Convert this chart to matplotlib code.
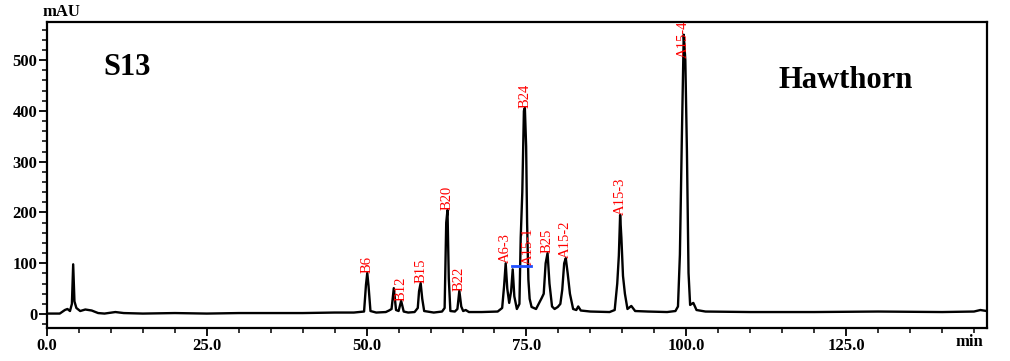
import matplotlib.pyplot as plt
from matplotlib.ticker import MultipleLocator, FormatStrFormatter

plt.rcParams['font.family'] = ['Liberation Serif', 'DejaVu Serif']

# chromatogram trace (min, mAU)
rt = [0, 2.0, 2.8, 3.2, 3.6, 3.9, 4.1, 4.3, 4.6, 5.2, 6.0, 7.0, 8.0, 9.0, 10.7, 12, 15, 20, 25, 30,
      35, 40, 45, 48, 49.6, 49.9, 50.1, 50.3, 50.6, 51.5, 53.0, 53.5, 53.9, 54.25, 54.6, 55.0, 55.4,
      55.8, 56.5, 57.5, 58.0, 58.2, 58.45, 58.7, 59.0, 60.5, 61.8, 62.2, 62.45, 62.65, 62.85, 63.1,
      63.8, 64.2, 64.5, 64.8, 65.1, 65.5, 66.0, 68, 70.5, 71.2, 71.5, 71.75, 72.0, 72.3, 72.6, 72.85,
      73.1, 73.5, 73.9, 74.1, 74.35, 74.6, 74.75, 74.95, 75.1, 75.3, 75.5, 75.8, 76.5, 77.0, 77.4,
      77.7, 78.0, 78.3, 78.6, 79.0, 79.4, 79.9, 80.3, 80.6, 80.9, 81.15, 81.45, 81.8, 82.3, 82.8,
      83.1, 83.5, 85, 88.0, 88.8, 89.2, 89.45, 89.65, 89.85, 90.1, 90.4, 90.8, 91.4, 92.0, 94, 97,
      98.3, 98.7, 99.0, 99.3, 99.6, 99.85, 100.1, 100.35, 100.6, 101.1, 101.6, 103, 110, 120, 130,
      140, 145, 146, 147]
mau = [1, 1, 8, 10, 6, 20, 98, 25, 12, 6, 9, 7, 2, 1, 4, 2, 1, 2, 1, 2,
       2, 2, 3, 3, 5, 58, 81, 55, 6, 3, 4, 7, 10, 51, 8, 6, 26,
       5, 3, 4, 12, 45, 61, 30, 6, 3, 5, 12, 180, 205, 70, 6,
       5, 10, 46, 15, 6, 8, 4, 4, 5, 12, 55, 100, 50, 22, 45, 88,
       35, 10, 20, 150, 240, 400, 406, 330, 180, 68, 30, 14, 10, 22, 32,
       40, 100, 120, 60, 15, 10, 14, 20, 48, 100, 110, 80, 40, 10, 8,
       15, 7, 5, 4, 8, 60, 115, 195, 150, 75, 40, 10, 16, 6, 5, 4,
       6, 15, 117, 343, 550, 500, 320, 81, 18, 22, 8, 5, 4, 4, 5,
       4, 5, 8, 6]

# peak names with their label anchor (min, mAU)
peak_names = ['B6', 'B12', 'B15', 'B20', 'B22', 'A6-3', 'A15-1', 'B24', 'B25', 'A15-2', 'A15-3', 'A15-4']
peak_rt = [50.1, 55.4, 58.45, 62.65, 64.5, 71.75, 75.3, 74.75, 78.3, 81.15, 89.65, 99.6]
peak_top = [81, 26, 61, 205, 46, 100, 96, 406, 120, 110, 195, 505]

# integration baseline marker (blue)
bar_rt = [72.8, 75.7]
bar_mau = [94, 94]

fig = plt.figure(figsize=(10.1, 3.61), dpi=100)
ax = fig.add_axes([0.0465, 0.092, 0.9305, 0.847])

ax.plot(rt, mau, color='black', lw=1.7)
ax.plot(bar_rt, bar_mau, color='#1f4fff', lw=2)

for name, x, y in zip(peak_names, peak_rt, peak_top):
    ax.text(x, y, name, rotation=90, ha='center', va='bottom', color='red',
            fontsize=10.5, clip_on=True)

ax.set_xlim(0, 147)
ax.set_ylim(-27, 575)
ax.xaxis.set_minor_locator(MultipleLocator(5))
ax.yaxis.set_minor_locator(MultipleLocator(20))
ax.xaxis.set_major_formatter(FormatStrFormatter('%.1f'))
ax.set_xticks([0, 25, 50, 75, 100, 125])
ax.set_yticks([0, 100, 200, 300, 400, 500])

ax.tick_params(which='major', direction='out', length=6, width=1.3, pad=1)
ax.tick_params(which='minor', direction='out', length=3.5, width=1.1)
for lab in ax.get_xticklabels() + ax.get_yticklabels():
    lab.set_fontweight('bold')
    lab.set_fontsize(12)
for sp in ax.spines.values():
    sp.set_linewidth(1.6)

ax.text(0.085, 0.85, 'S13', transform=ax.transAxes, fontsize=22, fontweight='bold',
        ha='center', va='center')
ax.text(0.85, 0.81, 'Hawthorn', transform=ax.transAxes, fontsize=22, fontweight='bold',
        ha='center', va='center')

fig.text(61 / 1010, 1 - 12 / 361, 'mAU', fontsize=12, fontweight='bold', ha='center', va='center')
fig.text(983 / 1010, 1 - 342 / 361, 'min', fontsize=12, fontweight='bold', ha='right', va='center')

fig.savefig('out.png', dpi=100)
